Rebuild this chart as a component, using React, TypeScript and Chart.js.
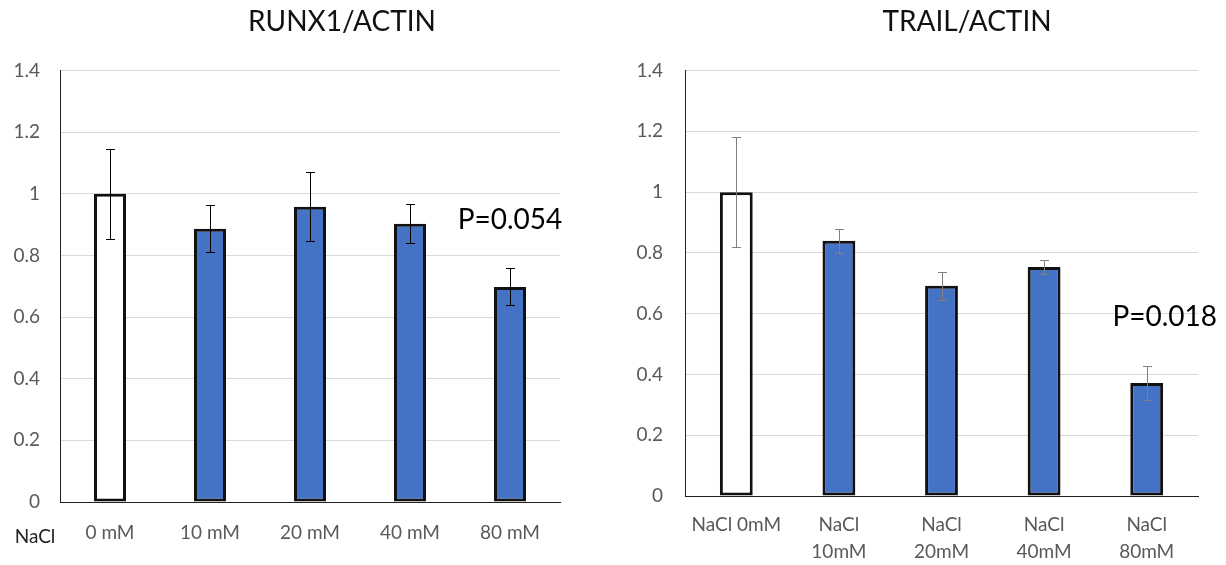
import React, { useEffect, useRef } from "react";
import { Chart, registerables } from "chart.js";

Chart.register(...registerables);

// ---------- data ----------
const runxTitle = "RUNX1/ACTIN";
const runxCategories = ["0 mM", "10 mM", "20 mM", "40 mM", "80 mM"];
const runxValues = [1.0, 0.887, 0.958, 0.903, 0.698];
const runxErrors = [0.147, 0.077, 0.112, 0.063, 0.06];
const runxPText = "P=0.054";
const runxPLevel = 0.915;
const runxAxisPrefix = "NaCl";

const trailTitle = "TRAIL/ACTIN";
const trailCategories = [["NaCl 0mM"], ["NaCl", "10mM"], ["NaCl", "20mM"], ["NaCl", "40mM"], ["NaCl", "80mM"]];
const trailValues = [1.0, 0.84, 0.692, 0.754, 0.372];
const trailErrors = [0.18, 0.04, 0.046, 0.022, 0.056];
const trailPText = "P=0.018";
const trailPLevel = 0.59;

const yTickLabels = ["0", "0.2", "0.4", "0.6", "0.8", "1", "1.2", "1.4"];
const yMax = 1.4;
const yStep = 0.2;

// ---------- styling ----------
const FONT = "Lato";
const BLUE = "#4472C4";
const GRID = "#d9d9d9";
const TICK = "#595959";

type Params = {
  title: string;
  labels: any[];
  values: number[];
  errors: number[];
  errColor: string;
  pText: string;
  pLevel: number;
  pOffset: number;
  prefix?: string;
  yWidth: number;
  yPad: number;
  rightWidth: number;
  xHeight: number;
  xPad: number;
  xLineHeight: number;
};

function makeConfig(p: Params): any {
  const overlay = {
    id: "overlay",
    afterDatasetsDraw(chart: any) {
      const { ctx, scales } = chart;
      const x = scales.x;
      const y = scales.y;
      ctx.save();
      ctx.strokeStyle = p.errColor;
      ctx.lineWidth = 1;
      p.values.forEach((v, i) => {
        const cx = Math.round(x.getPixelForValue(i)) + 0.5;
        const top = Math.round(y.getPixelForValue(v + p.errors[i])) + 0.5;
        const bot = Math.round(y.getPixelForValue(v - p.errors[i])) + 0.5;
        ctx.beginPath();
        ctx.moveTo(cx, top);
        ctx.lineTo(cx, bot);
        ctx.moveTo(cx - 4.5, top);
        ctx.lineTo(cx + 4.5, top);
        ctx.moveTo(cx - 4.5, bot);
        ctx.lineTo(cx + 4.5, bot);
        ctx.stroke();
      });
      ctx.fillStyle = "#000";
      ctx.font = `28px ${FONT}`;
      ctx.textAlign = "center";
      ctx.textBaseline = "middle";
      ctx.fillText(
        p.pText,
        x.getPixelForValue(p.values.length - 1) + p.pOffset,
        y.getPixelForValue(p.pLevel)
      );
      if (p.prefix) {
        const area = chart.chartArea;
        ctx.fillStyle = "#222";
        ctx.font = `19px ${FONT}`;
        ctx.fillText(p.prefix, area.left - 25, area.bottom + 35);
      }
      ctx.restore();
    },
  };

  return {
    type: "bar",
    data: {
      labels: p.labels,
      datasets: [
        {
          data: p.values,
          backgroundColor: p.values.map((_, i) => (i === 0 ? "#ffffff" : BLUE)),
          borderColor: "#111",
          borderWidth: 3,
          borderSkipped: false,
          barPercentage: 0.32,
          categoryPercentage: 1,
        },
      ],
    },
    options: {
      responsive: false,
      animation: false,
      layout: { padding: 0 },
      plugins: {
        legend: { display: false },
        tooltip: { enabled: false },
        title: {
          display: true,
          text: p.title,
          color: "#111",
          font: { family: FONT, size: 28, weight: "normal", lineHeight: 1.2 },
          padding: { top: 5, bottom: 32 },
        },
      },
      scales: {
        x: {
          grid: { display: false, drawTicks: false },
          border: { display: true, color: "#222", width: 1 },
          ticks: {
            color: TICK,
            font: { family: FONT, size: 19, lineHeight: p.xLineHeight },
            padding: p.xPad,
            maxRotation: 0,
            autoSkip: false,
          },
          afterFit: (s: any) => {
            s.height = p.xHeight;
          },
        },
        y: {
          min: 0,
          max: yMax,
          grid: { color: GRID, lineWidth: 1, drawTicks: false },
          border: { display: true, color: "#222", width: 1 },
          ticks: {
            stepSize: yStep,
            color: TICK,
            font: { family: FONT, size: 19 },
            padding: p.yPad,
            callback: (_v: any, i: number) => yTickLabels[i],
          },
          afterFit: (s: any) => {
            s.width = p.yWidth;
          },
        },
        yr: {
          type: "linear",
          position: "right",
          display: true,
          grid: { display: false, drawTicks: false },
          border: { display: false },
          ticks: { display: false },
          afterFit: (s: any) => {
            s.width = p.rightWidth;
          },
        },
      },
    },
    plugins: [overlay],
  };
}

function BarChart({ params, left, width }: { params: Params; left: number; width: number }) {
  const ref = useRef<HTMLCanvasElement | null>(null);
  useEffect(() => {
    if (!ref.current) return;
    const chart = new Chart(ref.current, makeConfig(params));
    return () => chart.destroy();
  }, []);
  return (
    <canvas
      ref={ref}
      width={width}
      height={565}
      style={{ position: "absolute", left, top: 0, width, height: 565 }}
    />
  );
}

export default function App() {
  const runx: Params = {
    title: runxTitle,
    labels: runxCategories,
    values: runxValues,
    errors: runxErrors,
    errColor: "#000",
    pText: runxPText,
    pLevel: runxPLevel,
    pOffset: 0,
    prefix: runxAxisPrefix,
    yWidth: 60,
    yPad: 20,
    rightWidth: 124,
    xHeight: 63,
    xPad: 19,
    xLineHeight: 1.2,
  };
  const trail: Params = {
    title: trailTitle,
    labels: trailCategories,
    values: trailValues,
    errors: trailErrors,
    errColor: "#7f7f7f",
    pText: trailPText,
    pLevel: trailPLevel,
    pOffset: 18,
    yWidth: 75,
    yPad: 22,
    rightWidth: 126,
    xHeight: 69,
    xPad: 15,
    xLineHeight: 1.42,
  };
  return (
    <div
      style={{
        position: "fixed",
        left: 0,
        top: 0,
        width: 1226,
        height: 565,
        overflow: "hidden",
        background: "#fff",
      }}
    >
      <BarChart params={runx} left={0} width={684} />
      <BarChart params={trail} left={610} width={714} />
    </div>
  );
}
